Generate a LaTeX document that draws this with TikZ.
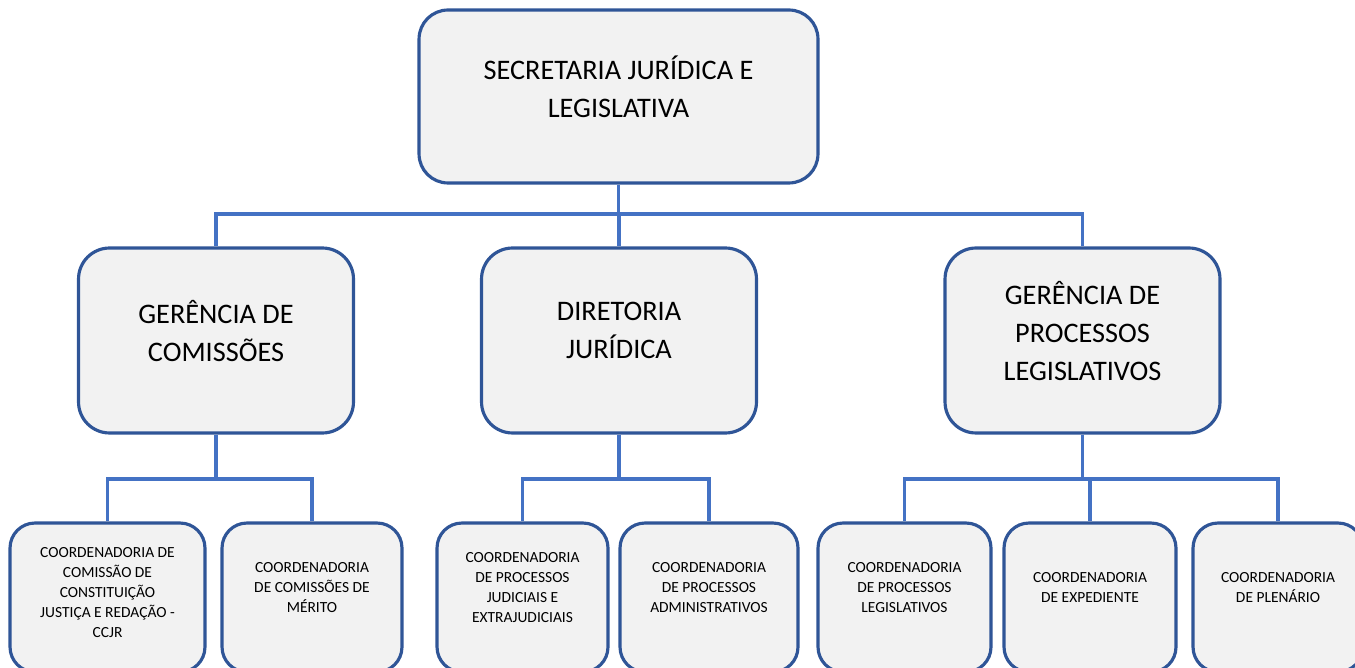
\documentclass[tikz,border=0pt]{standalone}
\usepackage{fontspec}
\setmainfont{Carlito}
\usepackage{tikz}
\usepackage{xcolor}
\usetikzlibrary{calc}

\definecolor{boxline}{HTML}{2F5597}
\definecolor{linkblue}{HTML}{4472C4}
\definecolor{boxfill}{HTML}{F2F2F2}
\newcommand{\lowpad}[1][0.4cm]{\rule[-#1]{0pt}{0pt}}

\begin{document}
\begin{tikzpicture}[
    x=0.02cm, y=-0.02cm,
    orgbox/.style={draw=boxline, line width=1.8pt, fill=boxfill, align=center, inner sep=2pt},
    secbox/.style={orgbox, rounded corners=0.58cm, minimum width=7.98cm, minimum height=3.46cm, font=\fontsize{16.1}{21.6}\selectfont},
    gerbox/.style={orgbox, rounded corners=0.62cm, minimum width=5.5cm, minimum height=3.7cm, font=\fontsize{16.1}{21.6}\selectfont},
    coobox/.style={orgbox, rounded corners=0.5cm, minimum height=2.98cm, font=\fontsize{8.8}{11.5}\selectfont},
    link/.style={draw=linkblue, line width=2pt}
]
\useasboundingbox (0,0) rectangle (1355,668);

\node[secbox] (sec) at (618.5,96.5) {SECRETARIA JURÍDICA E\\LEGISLATIVA\lowpad};

\node[gerbox] (gcom) at (216,340.5) {GERÊNCIA DE\\COMISSÕES\lowpad};
\node[gerbox] (dir) at (619,340.5) {DIRETORIA\\JURÍDICA\lowpad};
\node[gerbox] (gpl) at (1082.5,340.5) {GERÊNCIA DE\\PROCESSOS\\LEGISLATIVOS\lowpad};

\node[coobox, minimum width=3.9cm] (ccjr) at (107.5,597.5) {COORDENADORIA DE\\COMISSÃO DE\\CONSTITUIÇÃO\\JUSTIÇA E REDAÇÃO -\\CCJR\lowpad[0.2cm]};
\node[coobox, minimum width=3.6cm] (cmer) at (312,597.5) {COORDENADORIA\\DE COMISSÕES DE\\MÉRITO\lowpad};
\node[coobox, minimum width=3.42cm] (cjud) at (522.5,597.5) {COORDENADORIA\\DE PROCESSOS\\JUDICIAIS E\\EXTRAJUDICIAIS\lowpad};
\node[coobox, minimum width=3.56cm] (cadm) at (709,597.5) {COORDENADORIA\\DE PROCESSOS\\ADMINISTRATIVOS\lowpad};
\node[coobox, minimum width=3.46cm] (cleg) at (904.5,597.5) {COORDENADORIA\\DE PROCESSOS\\LEGISLATIVOS\lowpad};
\node[coobox, minimum width=3.44cm] (cexp) at (1090,597.5) {COORDENADORIA\\DE EXPEDIENTE\lowpad};
\node[coobox, minimum width=3.4cm] (cple) at (1278,597.5) {COORDENADORIA\\DE PLENÁRIO\lowpad};

\coordinate (bus0) at (618.5,214);
\coordinate (bus1) at (216,479);
\coordinate (bus2) at (619,479);
\coordinate (bus3) at (1082.5,479);

\draw[link] (sec.south) -- (bus0);
\draw[link] (bus0) -| (gcom.north);
\draw[link] (bus0) -| (dir.north);
\draw[link] (bus0) -| (gpl.north);

\draw[link] (gcom.south) -- (bus1);
\draw[link] (bus1) -| (ccjr.north);
\draw[link] (bus1) -| (cmer.north);

\draw[link] (dir.south) -- (bus2);
\draw[link] (bus2) -| (cjud.north);
\draw[link] (bus2) -| (cadm.north);

\draw[link] (gpl.south) -- (bus3);
\draw[link] (bus3) -| (cleg.north);
\draw[link] (bus3) -| (cexp.north);
\draw[link] (bus3) -| (cple.north);

\end{tikzpicture}
\end{document}
